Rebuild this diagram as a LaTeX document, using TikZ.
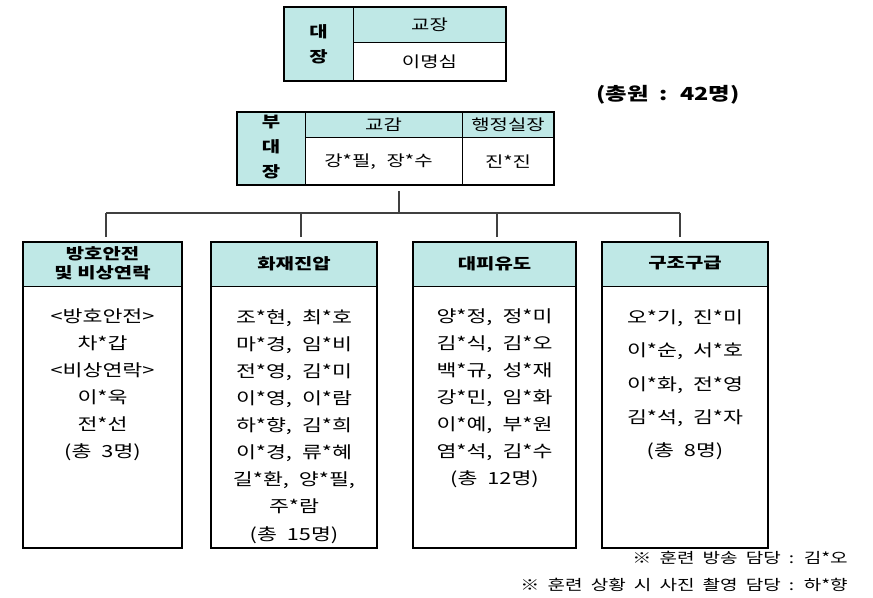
\documentclass[tikz,border=0pt]{standalone}
\usepackage{fontspec}
\setmainfont{Noto Sans CJK KR}[FakeStretch=1.3]
\usepackage{tikz}
\definecolor{headcyan}{HTML}{BFE8E6}
\definecolor{linkgray}{HTML}{404040}

\begin{document}
\begin{tikzpicture}[x=0.75pt, y=-0.75pt,
  frame/.style={line width=1.9pt, black},
  inner/.style={line width=0.7pt, black},
  link/.style={line width=0.8pt, linkgray},
  txt/.style={inner sep=0pt, align=center, font=\fontsize{11.5}{15}\selectfont},
  wtxt/.style={txt, font={\fontsize{11.5}{15}\selectfont\spaceskip=0.7em\relax}},
  lead/.style={txt, font=\bfseries\fontsize{11.5}{18.75}\selectfont},
  head/.style={txt, font=\bfseries\fontsize{11.5}{14.25}\selectfont},
  names/.style={txt, font={\fontsize{12.5}{20.3}\selectfont\spaceskip=0.6em\relax}},
  wide names/.style={names, font={\fontsize{12.5}{25}\selectfont\spaceskip=0.6em\relax}},
  total/.style={txt, font={\bfseries\fontsize{13.5}{15}\selectfont\spaceskip=0.6em\relax}},
  note/.style={txt, anchor=east, font={\fontsize{11}{12}\selectfont\spaceskip=0.55em\relax}}]
\useasboundingbox (0,0) rectangle (873,597);

% chief
\fill[headcyan] (284,7) rectangle (353,81) (353,7) rectangle (506,42);
\draw[inner] (353,7) -- (353,81) (353,42) -- (506,42);
\draw[frame] (284,7) rectangle (506,81);
\node[lead] (chief) at (318.5,44.5) {대\\장};
\node[txt] (chiefrole) at (429.5,25) {교장};
\node[txt] (chiefname) at (429.5,62) {이명심};

\node[total] (total) at (668,95) {(총원 : 42명)};

% vice chiefs
\fill[headcyan] (237,112) rectangle (305,185) (305,112) rectangle (554,137);
\draw[inner] (305,112) -- (305,185) (462,112) -- (462,185) (305,137) -- (554,137);
\draw[frame] (237,112) rectangle (554,185);
\node[lead] (vice) at (271,147) {부\\대\\장};
\node[txt] (viceroleA) at (383.5,124.5) {교감};
\node[txt] (viceroleB) at (508,124.5) {행정실장};
\node[wtxt] (vicenameA) at (378.5,162) {강*필, 장*수};
\node[wtxt] (vicenameB) at (508,162) {진*진};

\coordinate (vicebot) at (399,191);
\coordinate (bus) at (399,213);
\draw[link] (vicebot) -- (bus);

% teams
\foreach \n/\l/\r/\d in {g1/23/182/106, g2/211/377/301, g3/413/576/497, g4/602/768/680}{
  \fill[headcyan] (\l,242) rectangle (\r,286);
  \draw[inner] (\l,286) -- (\r,286);
  \draw[frame] (\l,242) rectangle (\r,548);
  \coordinate (\n-in) at (\d,237);
  \draw[link] (\n-in) -- (\n-in |- bus);
}
\draw[link] (g1-in |- bus) -- (g4-in |- bus);

\node[head] (g1-head) at (102.5,263.5) {방호안전\\및 비상연락};
\node[head] (g2-head) at (294,263.5) {화재진압};
\node[head] (g3-head) at (494.5,263.5) {대피유도};
\node[head] (g4-head) at (685,263.5) {구조구급};

\node[names] (g1-names) at (102.5,384.5) {<방호안전>\\차*갑\\<비상연락>\\이*욱\\전*선\\(총 3명)};
\node[names] (g2-names) at (294,426.5) {조*현, 최*호\\마*경, 임*비\\전*영, 김*미\\이*영, 이*람\\하*향, 김*희\\이*경, 류*혜\\길*환, 양*필,\\주*람\\(총 15명)};
\node[names] (g3-names) at (494.5,398.5) {양*정, 정*미\\김*식, 김*오\\백*규, 성*재\\강*민, 임*화\\이*예, 부*원\\염*석, 김*수\\(총 12명)};
\node[wide names] (g4-names) at (685,385) {오*기, 진*미\\이*순, 서*호\\이*화, 전*영\\김*석, 김*자\\(총 8명)};

% notes
\node[note] (noteA) at (848,558) {※ 훈련 방송 담당 : 김*오};
\node[note] (noteB) at (848,585) {※ 훈련 상황 시 사진 촬영 담당 : 하*향};
\end{tikzpicture}
\end{document}
